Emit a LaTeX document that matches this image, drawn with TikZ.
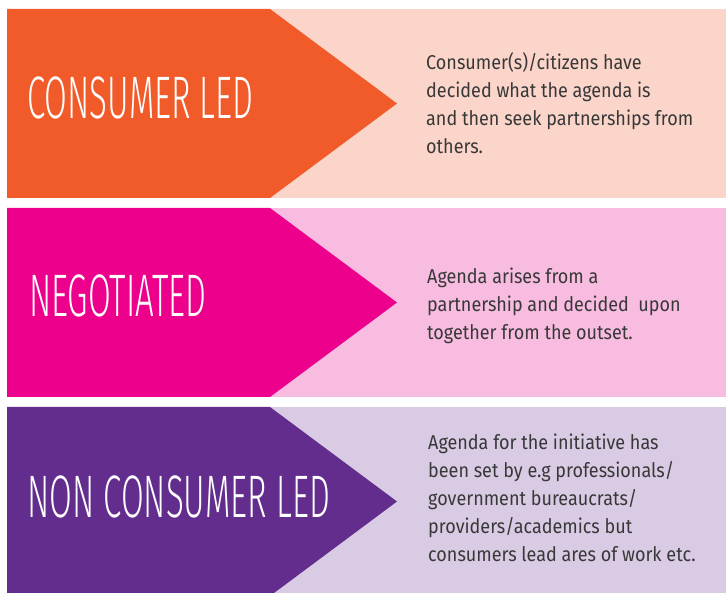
\documentclass[tikz,border=0pt]{standalone}
\usepackage{fontspec}
\setmainfont[FakeStretch=0.9]{Fira Sans}
\newfontfamily\titlefont[FakeStretch=0.55]{Fira Sans Light}
\definecolor{cledorange}{HTML}{F15A29}
\definecolor{cledlight}{HTML}{FBD5CA}
\definecolor{negpink}{HTML}{EC008C}
\definecolor{neglight}{HTML}{F7BCDF}
\definecolor{ncledpurple}{HTML}{632D8E}
\definecolor{ncledlight}{HTML}{D9CBE4}
\definecolor{bodygray}{HTML}{383838}
\tikzset{
  title/.style={anchor=base west, text=white, inner sep=0pt,
    font=\titlefont\fontsize{60}{60}\selectfont},
  desc/.style={anchor=west, text=bodygray, align=left, inner sep=0pt,
    font=\fontsize{20}{28}\selectfont},
}

\begin{document}
\begin{tikzpicture}[x=1pt,y=-1pt]
                \useasboundingbox (0,0) rectangle (726,593);
                \clip (0,0) rectangle (726,593);
                \fill[white] (0,0) rectangle (726,593);
                % the three bands: light box and coloured arrow
                \foreach \top/\dark/\light in {9/cledorange/cledlight,208/negpink/neglight,407/ncledpurple/ncledlight}{
                    \fill[\light] (270,\top) rectangle (726,\top+189);
                    \fill[\dark] (7,\top) -- (270,\top) -- (397,\top+94.5) -- (270,\top+189) -- (7,\top+189) -- cycle;
                }
                \node[title] (cled) at (27,119) {CONSUMER LED};
                \node[title] (neg) at (29,317) {NEGOTIATED};
                \node[title] (ncled) at (27,518) {NON CONSUMER LED};
                \node[desc] (cleddesc) at (426,103) {Consumer(s)/citizens have\\decided what the agenda is\\and then seek partnerships from\\others.};
                \node[desc] (negdesc) at (427,306) {Agenda arises from a\\partnership and decided~ upon\\together from the outset.};
                \node[desc] (ncleddesc) at (428,498) {Agenda for the initiative has\\been set by e.g professionals/\\government bureaucrats/\\providers/academics but\\consumers lead ares of work etc.};
\end{tikzpicture}
\end{document}
